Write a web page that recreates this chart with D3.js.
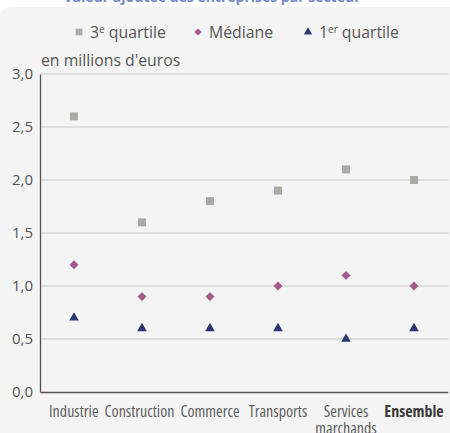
<!DOCTYPE html>
<html>
<head>
<meta charset="utf-8">
<script src="https://cdn.jsdelivr.net/npm/d3@7"></script>
<style>
  html, body { margin: 0; padding: 0; background: #ffffff; }
  svg { display: block; }
  .cat { font-family: "Open Sans", "Noto Sans", sans-serif; font-stretch: condensed; }
  .cat.bold { font-stretch: semi-condensed; }
</style>
</head>
<body>
<svg id="chart" width="450" height="433"></svg>
<script>
// Categories and the three series, in millions of euros
const categories = ["Industrie", "Construction", "Commerce", "Transports", "Services marchands", "Ensemble"];
const q3Values = [2.6, 1.6, 1.8, 1.9, 2.1, 2.0];
const medianValues = [1.2, 0.9, 0.9, 1.0, 1.1, 1.0];
const q1Values = [0.7, 0.6, 0.6, 0.6, 0.5, 0.6];
const yTicks = [0, 0.5, 1.0, 1.5, 2.0, 2.5, 3.0];

const series = [
  { key: "q3", values: q3Values, color: "#aca8a3", symbol: d3.symbolSquare, size: 64, rotate: 0 },
  { key: "med", values: medianValues, color: "#a35b8d", symbol: d3.symbolSquare, size: 40, rotate: 45 },
  { key: "q1", values: q1Values, color: "#2b3570", symbol: d3.symbolTriangle, size: 40, rotate: 0 }
];

const svg = d3.select("#chart");
const W = 450, H = 433;
const margin = { left: 40, right: 2, top: 74, bottom: 41 };

// Title, mostly hidden above the panel
svg.append("text")
  .attr("x", 212).attr("y", 1.5)
  .attr("text-anchor", "middle")
  .attr("font-family", "Open Sans, sans-serif")
  .attr("font-size", 14).attr("font-weight", 700)
  .attr("fill", "#7386cc")
  .text("Valeur ajoutée des entreprises par secteur");

// Panel background
svg.append("path")
  .attr("d", `M0,${H} L0,17 Q0,7 10,7 L${W},7 L${W},${H} Z`)
  .attr("fill", "#f4f4f4");

const x = d3.scaleBand().domain(categories).range([margin.left, W - margin.right]);
const y = d3.scaleLinear().domain([0, 3]).range([H - margin.bottom, margin.top]);

// Gridlines
svg.append("g")
  .selectAll("line")
  .data(yTicks.filter(t => t > 0))
  .join("line")
  .attr("x1", margin.left).attr("x2", W - 1)
  .attr("y1", d => y(d)).attr("y2", d => y(d))
  .attr("stroke", "#d7d7d7").attr("stroke-width", 1.3);

// Y axis
const fmt = d => d3.format(".1f")(d).replace(".", ",");
const yAxis = svg.append("g")
  .attr("transform", `translate(${margin.left},0)`)
  .call(d3.axisLeft(y).tickValues(yTicks).tickFormat(fmt).tickSize(0).tickPadding(7));
yAxis.select(".domain").attr("stroke", "#555").attr("stroke-width", 1.3);
yAxis.selectAll("text")
  .attr("font-family", "Open Sans, sans-serif")
  .attr("font-size", 15).attr("fill", "#555");

// X axis
const xAxis = svg.append("g")
  .attr("transform", `translate(0,${y(0)})`)
  .call(d3.axisBottom(x).tickSize(0).tickFormat(""));
xAxis.select(".domain").attr("stroke", "#555").attr("stroke-width", 1.3);

// Category labels, centred under each band, then nudged left where neighbours crowd
const catG = svg.append("g");
const labels = categories.map(c => {
  const words = c === "Services marchands" ? ["Services", "marchands"] : [c];
  const bold = c === "Ensemble";
  const cx = x(c) + x.bandwidth() / 2;
  const t = catG.append("text")
    .attr("class", bold ? "cat bold" : "cat")
    .attr("y", y(0) + 25)
    .attr("text-anchor", "middle")
    .attr("font-size", 16)
    .attr("fill", bold ? "#3a3a3a" : "#5e5e5e")
    .attr("font-weight", bold ? 700 : 400);
  words.forEach((w, i) => {
    t.append("tspan").attr("x", cx).attr("dy", i === 0 ? 0 : 17).text(w);
  });
  const wdt = t.node().getBBox().width;
  return { t, cx, w: wdt };
});
const minGap = 6;
for (let i = labels.length - 2; i >= 0; i--) {
  const a = labels[i], b = labels[i + 1];
  const aRight = a.cx + a.w / 2, bLeft = b.cx - b.w / 2;
  if (bLeft - aRight < minGap) a.cx -= minGap - (bLeft - aRight);
}
labels.forEach(l => l.t.selectAll("tspan").attr("x", l.cx));

// Unit label
svg.append("text")
  .attr("x", 41).attr("y", 66)
  .attr("font-family", "Open Sans, sans-serif")
  .attr("font-size", 15.8).attr("fill", "#555")
  .text("en millions d'euros");

// Markers
series.forEach(s => {
  svg.append("g")
    .selectAll("path")
    .data(s.values.map((v, i) => ({ v, c: categories[i] })))
    .join("path")
    .attr("d", d3.symbol().type(s.symbol).size(s.size))
    .attr("transform", d => `translate(${x(d.c) + x.bandwidth() / 2},${y(d.v)}) rotate(${s.rotate})`)
    .attr("fill", s.color);
});

// Legend
const legendItems = [
  { s: series[0], x: 79, size: 44, label: ["3", "e", " quartile"] },
  { s: series[1], x: 198, size: 26, label: ["Médiane", "", ""] },
  { s: series[2], x: 308, size: 30, label: ["1", "er", " quartile"] }
];
legendItems.forEach(it => {
  svg.append("path")
    .attr("d", d3.symbol().type(it.s.symbol).size(it.size))
    .attr("transform", `translate(${it.x},32) rotate(${it.s.rotate})`)
    .attr("fill", it.s.color);
  const t = svg.append("text")
    .attr("x", it.x + 11).attr("y", 37.5)
    .attr("font-family", "Open Sans, sans-serif")
    .attr("font-size", 15.8).attr("fill", "#555");
  t.append("tspan").text(it.label[0]);
  if (it.label[1]) {
    t.append("tspan").attr("dy", -5).attr("font-size", 10).text(it.label[1]);
    t.append("tspan").attr("dy", 5).text(it.label[2]);
  }
});
</script>
</body>
</html>
